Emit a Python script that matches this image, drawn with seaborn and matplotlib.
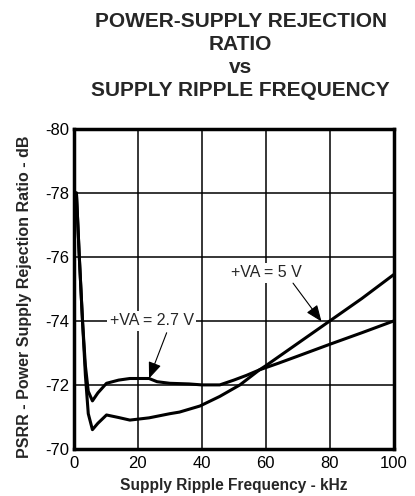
import numpy as np
import pandas as pd
import matplotlib
matplotlib.use("Agg")
import matplotlib.pyplot as plt
import seaborn as sns

# values
freq_27 = [0.8, 1.7, 2.7, 3.6, 4.5, 5.8, 7.5, 10.2, 14, 17.5, 23.5, 26, 30, 36, 40, 45.6, 50, 54, 58, 64, 70, 80, 90, 100]
psrr_27 = [-78.0, -76.0, -74.0, -72.6, -71.8, -71.5, -71.75, -72.05, -72.15, -72.2, -72.2, -72.1, -72.05, -72.03, -72.0, -72.0, -72.15, -72.3, -72.47, -72.68, -72.9, -73.27, -73.63, -74.0]

freq_5 = [0.8, 1.7, 2.7, 3.6, 4.5, 5.8, 7.5, 10.2, 14, 17.5, 23.5, 30, 33, 39.4, 45.6, 51.9, 58, 60, 70, 80, 90, 100]
psrr_5 = [-78.0, -76.0, -74.0, -72.3, -71.1, -70.6, -70.8, -71.06, -70.98, -70.9, -70.97, -71.1, -71.15, -71.34, -71.64, -72.0, -72.47, -72.6, -73.3, -74.0, -74.7, -75.45]

df = pd.concat([
    pd.DataFrame({"f": freq_27, "psrr": psrr_27, "va": "2.7"}),
    pd.DataFrame({"f": freq_5, "psrr": psrr_5, "va": "5"}),
])

sns.set_style("white")
plt.rcParams["font.family"] = ["Liberation Sans", "DejaVu Sans"]
plt.rcParams["axes.unicode_minus"] = False

fig = plt.figure(figsize=(4.15, 4.96), dpi=100)
ax = fig.add_axes([0.178, 0.095, 0.771, 0.645])

sns.lineplot(data=df, x="f", y="psrr", units="va", estimator=None, sort=False,
             color="black", linewidth=2.2, ax=ax, legend=False)

ax.set_xlim(0, 100)
ax.set_ylim(-70, -80)
ax.set_xticks([0, 20, 40, 60, 80, 100])
ax.set_yticks([-80, -78, -76, -74, -72, -70])
ax.grid(True, color="black", linewidth=1.1)
ax.set_axisbelow(True)
for s in ax.spines.values():
    s.set_color("black")
    s.set_linewidth(2.5)
ax.tick_params(axis="both", labelsize=12, length=0, colors="black")
ax.tick_params(axis="x", pad=5)
ax.tick_params(axis="y", pad=3)

ax.set_xlabel("Supply Ripple Frequency - kHz", fontsize=11.2, fontweight="bold", labelpad=5)
ax.set_ylabel("PSRR - Power Supply Rejection Ratio - dB", fontsize=11.5, fontweight="bold")
ax.yaxis.set_label_coords(-0.13, 0.475)

fig.text(0.58, 0.975, "POWER-SUPPLY REJECTION\nRATIO\nvs\nSUPPLY RIPPLE FREQUENCY",
         ha="center", va="top", fontsize=15, fontweight="bold", linespacing=1.25)

arrow = dict(arrowstyle="-|>,head_length=1.0,head_width=0.4", color="black",
             lw=0.8, shrinkA=0, shrinkB=0)
box = dict(boxstyle="square,pad=0.15", fc="white", ec="none")

ax.text(24.3, -74.0, "+VA = 2.7 V", ha="center", va="center", fontsize=11.5, bbox=box)
ax.annotate("", xy=(23.5, -72.2), xytext=(29.0, -73.63), arrowprops=arrow)

ax.text(60.2, -75.5, "+VA = 5 V", ha="center", va="center", fontsize=11.5, bbox=box)
ax.annotate("", xy=(77.4, -73.98), xytext=(68.5, -75.18), arrowprops=arrow)

fig.savefig("out.png", dpi=100)
